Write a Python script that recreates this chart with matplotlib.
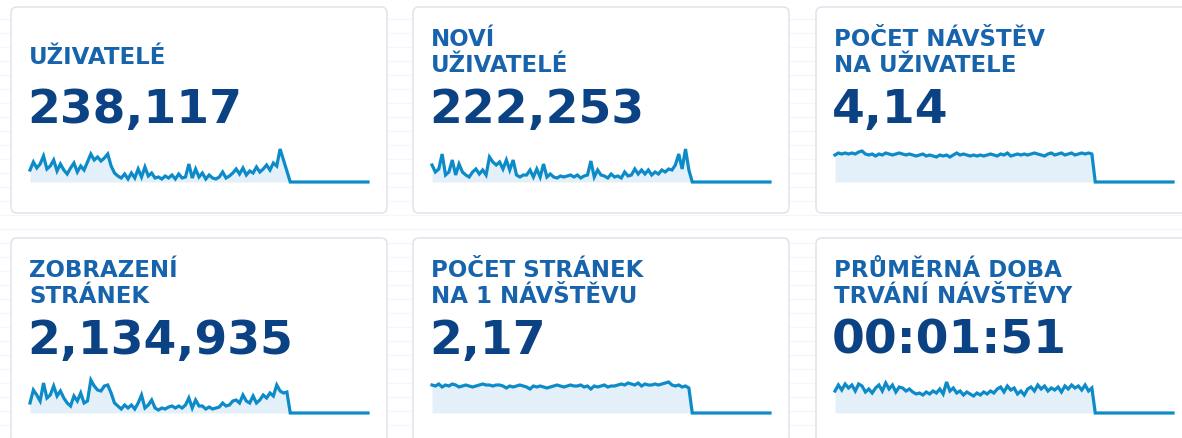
import numpy as np
import matplotlib.pyplot as plt
from matplotlib.patches import FancyBboxPatch
from matplotlib.transforms import IdentityTransform

W, H = 1182, 439

titles = [
    ["UŽIVATELÉ"],
    ["NOVÍ", "UŽIVATELÉ"],
    ["POČET NÁVŠTĚV", "NA UŽIVATELE"],
    ["ZOBRAZENÍ", "STRÁNEK"],
    ["POČET STRÁNEK", "NA 1 NÁVŠTĚVU"],
    ["PRŮMĚRNÁ DOBA", "TRVÁNÍ NÁVŠTĚVY"],
]
values = ["238,117", "222,253", "4,14", "2,134,935", "2,17", "00:01:51"]

# sparkline values (daily), followed by empty days
users = [12, 20, 14, 18, 26, 13, 16, 22, 11, 18, 12, 8, 14, 19, 10, 16, 12, 20, 28, 22,
         25, 21, 24, 28, 16, 9, 6, 4, 8, 3, 9, 4, 13, 5, 15, 6, 9, 4, 5, 3,
         6, 4, 7, 3, 8, 4, 5, 18, 4, 13, 5, 9, 3, 7, 4, 3, 5, 10, 4, 6,
         9, 13, 8, 14, 7, 11, 9, 15, 10, 13, 17, 12, 19, 16, 33, 22, 11]
new_users = [17, 10, 13, 28, 7, 10, 22, 7, 18, 10, 7, 5, 10, 13, 8, 12, 7, 25, 20, 17,
             20, 13, 22, 12, 22, 7, 5, 7, 7, 12, 5, 13, 5, 18, 5, 8, 5, 4, 6, 5,
             6, 7, 5, 7, 4, 6, 7, 21, 5, 12, 7, 6, 4, 8, 5, 6, 4, 10, 6, 7,
             13, 8, 12, 8, 12, 7, 10, 8, 12, 10, 13, 12, 17, 28, 13, 33, 12]
visits_per_user = [27, 29, 28, 29, 28, 29, 28, 30, 31, 28, 27, 28, 26, 28, 27, 29, 28, 27, 28, 29,
                   28, 27, 28, 27, 26, 27, 28, 26, 27, 26, 25, 27, 26, 27, 25, 27, 29, 27, 28, 27,
                   26, 27, 26, 27, 26, 27, 28, 27, 26, 28, 27, 29, 26, 27, 28, 27, 28, 27, 28, 29,
                   28, 27, 26, 28, 29, 27, 28, 29, 27, 28, 29, 27, 28, 29, 28, 29, 28]
page_views = [10, 23, 18, 12, 30, 15, 18, 27, 17, 22, 15, 10, 7, 17, 12, 20, 10, 12, 33, 27,
              23, 22, 27, 28, 20, 10, 7, 4, 8, 5, 8, 4, 10, 18, 5, 8, 13, 5, 3, 5,
              4, 6, 7, 5, 7, 5, 8, 15, 5, 13, 7, 7, 4, 6, 4, 5, 6, 10, 7, 8,
              12, 13, 10, 18, 12, 10, 17, 10, 13, 18, 15, 20, 17, 28, 22, 20, 21]
pages_per_visit = [28, 27, 29, 26, 28, 27, 29, 28, 26, 27, 28, 27, 26, 27, 28, 29, 28, 28, 27, 28,
                   28, 27, 25, 27, 26, 27, 28, 27, 26, 24, 27, 26, 27, 26, 25, 26, 27, 28, 27, 26,
                   27, 28, 27, 27, 28, 26, 27, 24, 27, 26, 27, 28, 26, 27, 27, 28, 29, 28, 30, 29,
                   28, 30, 27, 29, 28, 28, 29, 28, 29, 30, 31, 28, 27, 28, 26, 27, 25]
avg_duration = [22, 28, 23, 29, 25, 28, 22, 29, 27, 21, 24, 20, 25, 28, 22, 30, 24, 28, 21, 26,
                25, 22, 24, 21, 19, 20, 18, 21, 19, 22, 20, 24, 19, 31, 22, 25, 20, 22, 18, 21,
                19, 17, 20, 18, 21, 19, 22, 20, 24, 26, 21, 27, 23, 25, 19, 22, 18, 24, 26, 22,
                28, 24, 27, 22, 25, 23, 26, 21, 27, 24, 28, 25, 27, 23, 28, 22, 25]
series = [users, new_users, visits_per_user, page_views, pages_per_visit, avg_duration]
empty_days = 24

title_color = '#1764ad'
value_color = '#0b4284'
line_color = '#0d8bc8'
fill_color = '#e4f0f9'


def fx(x):
    return x / W


def fy(y):
    return 1 - y / H


fig = plt.figure(figsize=(W / 100, H / 100), dpi=100)
fig.patch.set_facecolor('white')

# faint page stripes behind the cards
for y in range(20, H, 14):
    fig.add_artist(plt.Line2D([0, 1], [fy(y), fy(y)], color='#f5f6f9', lw=1.0, zorder=0))

card_left = [11, 413, 816]
card_top = [8, 239]
card_w, card_h = 376, 206

for i in range(6):
    col, row = i % 3, i // 3
    x0, y0 = card_left[col], card_top[row]
    card = FancyBboxPatch((x0, H - y0 - card_h), card_w, card_h,
                          boxstyle='round,pad=0,rounding_size=6',
                          transform=IdentityTransform(), facecolor='white',
                          edgecolor='#e3e5ee', lw=1.2, zorder=1)
    fig.add_artist(card)

    tx = x0 + 18
    lines = titles[i]
    if len(lines) == 1:
        baselines = [y0 + 56]
    else:
        baselines = [y0 + 38, y0 + 64]
    for s, b in zip(lines, baselines):
        fig.text(fx(tx), fy(b), s, color=title_color, fontsize=16.5,
                 fontweight='bold', family='DejaVu Sans', va='baseline', zorder=2)
    fig.text(fx(tx - 2), fy(y0 + 115), values[i], color=value_color, fontsize=34,
             fontweight='bold', family='DejaVu Sans', va='baseline', zorder=2)

    # sparkline
    vals = series[i] + [0] * empty_days
    x = np.arange(len(vals))
    sx0 = x0 + 19
    sx1 = x0 + 357
    base = y0 + 175
    ax = fig.add_axes([fx(sx0), fy(base), fx(sx1 - sx0), 40 / H])
    ax.fill_between(x, vals, 0, color=fill_color, lw=0, zorder=1)
    ax.plot(x, vals, color=line_color, lw=2.3, zorder=2, clip_on=False,
            solid_joinstyle='miter')
    ax.set_xlim(0, len(vals) - 1)
    ax.set_ylim(0, 40)
    ax.set_zorder(3)
    ax.axis('off')

fig.savefig('out.png', dpi=100, facecolor='white')
